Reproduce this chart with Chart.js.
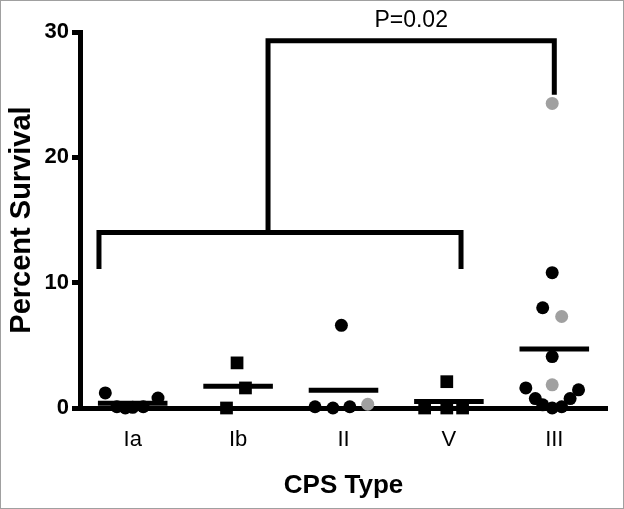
<!DOCTYPE html>
<html><head><meta charset="utf-8">
<script src="https://cdn.jsdelivr.net/npm/chart.js@4.4.0/dist/chart.umd.min.js"></script>
<style>html,body{margin:0;padding:0;background:#fff;} canvas{display:block;}</style>
</head><body>
<canvas id="c" width="624" height="509"></canvas>
<script>
// ---- data ----
const categories = ['Ia', 'Ib', 'II', 'V', 'III'];
const yTicks = [0, 10, 20, 30];

const iaValues = [1.2, 0.1, 0.0, 0.05, 0.1, 0.8];
const iaJitter = [-0.26, -0.15, -0.07, 0.0, 0.10, 0.24];
const ibValues = [0.0, 3.6, 1.6];
const ibJitter = [-0.11, -0.01, 0.07];
const iiValues = [0.1, 0.0, 6.6, 0.1];
const iiJitter = [-0.27, -0.10, -0.02, 0.06];
const iiGrayValues = [0.3];
const iiGrayJitter = [0.23];
const vValues = [0.0, 0.0, 0.0, 2.1];
const vJitter = [-0.23, -0.02, 0.13, -0.02];
const iiiValues = [10.8, 8.0, 4.1, 1.6, 1.45, 0.75, 0.75, 0.25, 0.0, 0.1];
const iiiJitter = [-0.02, -0.11, -0.02, -0.27, 0.23, -0.18, 0.15, -0.11, -0.02, 0.07];
const iiiGrayValues = [24.3, 7.3, 1.85];
const iiiGrayJitter = [-0.02, 0.07, -0.02];

const pLabel = 'P=0.02';
const bracketLow = [[-0.32, 11.1], [-0.32, 14], [3.115, 14], [3.115, 11.1]];
const bracketHigh = [[1.284, 14], [1.284, 29.3], [4.0, 29.3], [4.0, 25.0]];

// ---- build ----
const FONT = "'Liberation Sans', Arial, sans-serif";
function pts(ci, vals, jit) { return vals.map((v, k) => ({x: ci + jit[k], y: v})); }
const groups = [
  {ci: 0, black: [iaValues, iaJitter], gray: null, style: 'circle'},
  {ci: 1, black: [ibValues, ibJitter], gray: null, style: 'rect'},
  {ci: 2, black: [iiValues, iiJitter], gray: [iiGrayValues, iiGrayJitter], style: 'circle'},
  {ci: 3, black: [vValues, vJitter], gray: null, style: 'rect'},
  {ci: 4, black: [iiiValues, iiiJitter], gray: [iiiGrayValues, iiiGrayJitter], style: 'circle'}
];
const datasets = [];
groups.forEach(g => {
  datasets.push({
    data: pts(g.ci, g.black[0], g.black[1]),
    pointStyle: g.style, pointRadius: g.style === 'rect' ? 9 : 6.5,
    backgroundColor: '#000', borderWidth: 0, clip: false, order: 1
  });
  if (g.gray) datasets.push({
    data: pts(g.ci, g.gray[0], g.gray[1]),
    pointStyle: 'circle', pointRadius: 6.5,
    backgroundColor: '#a0a0a0', borderWidth: 0, clip: false, order: 1
  });
});
groups.forEach(g => {
  const all = g.black[0].concat(g.gray ? g.gray[0] : []);
  const m = all.reduce((a, b) => a + b, 0) / all.length;
  datasets.push({
    data: [{x: g.ci - 0.33, y: m}, {x: g.ci + 0.33, y: m}],
    showLine: true, borderColor: '#000', borderWidth: 5, pointRadius: 0,
    borderCapStyle: 'butt', clip: false, order: 2
  });
});
[bracketLow, bracketHigh].forEach(b => {
  datasets.push({
    data: b.map(p => ({x: p[0], y: p[1]})),
    showLine: true, borderColor: '#000', borderWidth: 5, pointRadius: 0,
    borderCapStyle: 'butt', borderJoinStyle: 'miter', clip: false, order: 2, tension: 0
  });
});

const extras = {
  id: 'extras',
  afterDraw(chart) {
    const ctx = chart.ctx, xs = chart.scales.x, ys = chart.scales.y;
    ctx.save();
    ctx.strokeStyle = '#a0a0a0'; ctx.lineWidth = 1;
    ctx.strokeRect(0.5, 0.5, chart.width - 1, chart.height - 1);
    ctx.fillStyle = '#000';
    ctx.font = "23px " + FONT;
    ctx.textAlign = 'center'; ctx.textBaseline = 'middle';
    const px = xs.getPixelForValue((bracketHigh[1][0] + bracketHigh[2][0]) / 2);
    const py = ys.getPixelForValue(bracketHigh[1][1]) - 20;
    ctx.fillText(pLabel, px, py);
    ctx.restore();
  }
};

new Chart(document.getElementById('c'), {
  type: 'scatter',
  data: {datasets},
  plugins: [extras],
  options: {
    responsive: false, animation: false, devicePixelRatio: 1,
    layout: {padding: {top: 32, right: 17, left: 0, bottom: 0}},
    plugins: {legend: {display: false}, tooltip: {enabled: false}},
    scales: {
      x: {
        type: 'linear', min: -0.5, max: 4.5,
        afterBuildTicks: s => { s.ticks = categories.map((c, i) => ({value: i})); },
        afterFit: s => { s.height = 101; },
        ticks: {callback: (v, i) => categories[i], font: {family: FONT, size: 22}, color: '#000', padding: 11, maxRotation: 0},
        grid: {display: false},
        border: {display: true, color: '#000', width: 5},
        title: {display: true, text: 'CPS Type', color: '#000', font: {family: FONT, size: 26, weight: 'bold'}, padding: {top: 0, bottom: 8}}
      },
      y: {
        min: 0, max: 30,
        afterBuildTicks: s => { s.ticks = yTicks.map(v => ({value: v})); },
        afterFit: s => { s.width = 80; },
        ticks: {font: {family: FONT, size: 22, weight: 'bold'}, color: '#000', padding: 3},
        grid: {display: true, drawOnChartArea: false, drawTicks: true, tickLength: 8, tickWidth: 5, tickColor: '#000', color: '#000'},
        border: {display: true, color: '#000', width: 5},
        title: {display: true, text: 'Percent Survival', color: '#000', font: {family: FONT, size: 29, weight: 'bold'}, padding: {top: 5, bottom: 0}}
      }
    }
  }
});
</script>
</body></html>
